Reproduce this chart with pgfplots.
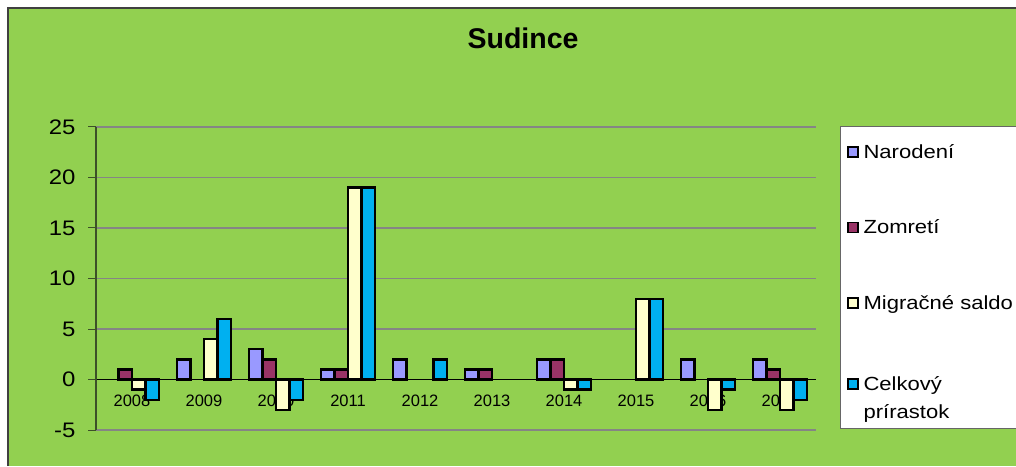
\documentclass[border=0pt]{standalone}
\usepackage{pgfplots}
\pgfplotsset{compat=1.18}
\usepackage{fontspec}
\setmainfont{Liberation Sans}
\newfontfamily\wideA[FakeStretch=1.14]{Liberation Sans}
\newfontfamily\wideB[FakeStretch=1.16]{Liberation Sans}
\definecolor{bg}{HTML}{92D050}
\definecolor{narod}{HTML}{9999FF}
\definecolor{zomr}{HTML}{993366}
\definecolor{migr}{HTML}{FFFFCC}
\definecolor{celk}{HTML}{00B0F0}
\definecolor{axcol}{RGB}{60,80,40}
\definecolor{gridc}{HTML}{858585}

\begin{document}
\begin{tikzpicture}[x=1pt,y=1pt]
\path[use as bounding box] (0,0) rectangle (1016,466);
\fill[bg] (8,0) rectangle (1016,458);
\draw[black!75, line width=1.5pt] (8,0) -- (8,458) -- (1016,458);
% legend box
\fill[white] (840,38) rectangle (1016,339);
\draw[gray!80!black, line width=1pt] (1016,38) -- (840,38) -- (840,339) -- (1016,339);
\node[font=\fontsize{28.5}{32}\selectfont\bfseries] at (523,428) {Sudince};

\begin{axis}[
  at={(96pt,36pt)}, anchor=south west,
  scale only axis, width=720pt, height=303pt,
  xmin=-0.5, xmax=9.5, ymin=-5, ymax=25,
  ybar=0pt, bar width=13.5pt,
  axis x line=middle, axis y line=left,
  x axis line style={-, black, line width=1pt},
  y axis line style={-, axcol, line width=1.3pt},
  xtick={0,...,9},
  xticklabels={2008,2009,2010,2011,2012,2013,2014,2015,2016,2017},
  x tick style={draw=none},
  extra x ticks={-0.5,0.5,...,9.5},
  extra x tick labels={},
  extra x tick style={tick style={draw=black, line width=0.8pt}, major tick length=6pt, tick align=outside},
  xticklabel style={font=\fontsize{16.5}{19}\selectfont, yshift=-4pt},
  ytick={-5,0,...,25},
  y tick style={axcol, line width=1pt},
  ymajorgrids, grid style={gridc, line width=1.5pt},
  tick align=outside, major tick length=8pt,
  yticklabel style={font=\wideA\fontsize{21}{26}\selectfont, xshift=-9pt},
  /pgf/number format/assume math mode=true,
  legend style={draw=none, fill=none, anchor=north west,
    at={(axis description cs:1.0430,0.943)},
    font=\wideB\fontsize{19}{28}\selectfont, row sep=60pt, inner sep=0pt,
    cells={anchor=base west},
    nodes={align=left, inner sep=0pt, outer sep=0pt}},
  legend image code/.code={\draw[#1, line width=1.4pt] (0pt,1.5pt) rectangle (10pt,11.5pt);},
  every axis plot/.append style={draw=black, line width=2.4pt},
]
\addplot[fill=narod] coordinates {(1,2) (2,3) (3,1) (4,2) (5,1) (6,2) (8,2) (9,2)};
\addplot[fill=zomr] coordinates {(0,1) (2,2) (3,1) (5,1) (6,2) (9,1)};
\addplot[fill=migr] coordinates {(0,-1) (1,4) (2,-3) (3,19) (6,-1) (7,8) (8,-3) (9,-3)};
\addplot[fill=celk] coordinates {(0,-2) (1,6) (2,-2) (3,19) (4,2) (6,-1) (7,8) (8,-1) (9,-2)};
\legend{\hspace{5pt}Narodení,\hspace{5pt}Zomretí,\hspace{5pt}Migračné saldo,{\hspace{5pt}\begin{tabular}[t]{@{}l@{}}Celkový\\prírastok\end{tabular}}}
\end{axis}
\end{tikzpicture}
\end{document}
